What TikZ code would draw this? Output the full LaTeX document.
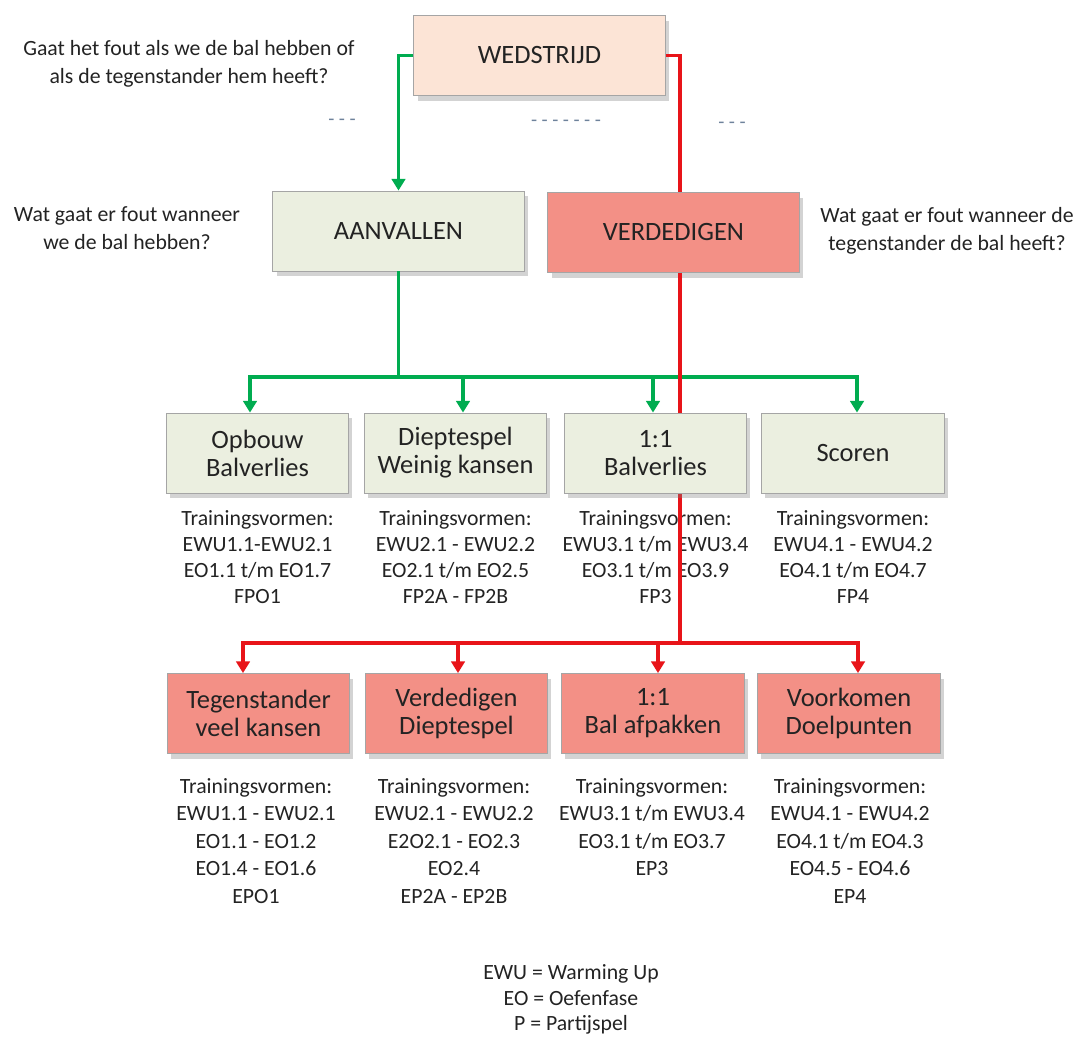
\documentclass[tikz,border=0pt]{standalone}
\usepackage{fontspec}
\setmainfont{Carlito}
\usepackage{xcolor}
\definecolor{peachfill}{RGB}{252,228,214}
\definecolor{sagefill}{RGB}{235,239,224}
\definecolor{salmonfill}{RGB}{243,144,134}
\definecolor{attackgreen}{RGB}{0,172,80}
\definecolor{defendred}{RGB}{232,20,25}
\definecolor{boxborder}{RGB}{165,165,165}
\definecolor{textgray}{RGB}{35,35,35}
\definecolor{dashgray}{RGB}{110,130,155}
\usepackage{tikz}
\usetikzlibrary{arrows.meta,shadows}

\pgfdeclarelayer{front}
\pgfsetlayers{main,front}

\begin{document}
\begin{tikzpicture}[x=0.0194cm, y=-0.0194cm, every node/.style={align=center, text=textgray},
  box/.style={draw=boxborder, line width=0.5pt, minimum height=1.55cm, inner sep=2pt,
    drop shadow={shadow xshift=2pt, shadow yshift=-3pt, opacity=0.35},
    font=\fontsize{14.6}{15.5}\selectfont},
  topbox/.style={box, minimum width=4.87cm},
  rowbox/.style={box, minimum width=3.54cm},
  attack/.style={fill=sagefill},
  defend/.style={fill=salmonfill},
  ask/.style={font=\fontsize{12}{15.4}\selectfont},
  info/.style={anchor=north, inner sep=0pt, font=\fontsize{12}{14.3}\selectfont},
  infolong/.style={anchor=north, inner sep=0pt, font=\fontsize{12}{15.2}\selectfont},
  dashmark/.style={text=dashgray, font=\fontsize{11}{12}\selectfont},
  gline/.style={draw=attackgreen, line width=1.9pt},
  rline/.style={draw=defendred, line width=1.9pt},
  arrowend/.style={-{Triangle[width=7.5pt,length=6.5pt]}}]
  \useasboundingbox (0,0) rectangle (1085,1039);

  % Nodes
  \node[topbox, fill=peachfill] (wed) at (539.5,55.5) {WEDSTRIJD};
  \node[topbox, attack] (aan) at (398.5,231) {AANVALLEN};
  \node[topbox, defend] (ver) at (673.5,232.5) {VERDEDIGEN};

  \node[ask] (qwed) at (189,64) {Gaat het fout als we de bal hebben of\\als de tegenstander hem heeft?};
  \node[ask] (qaan) at (127,228) {Wat gaat er fout wanneer\\we de bal hebben?};
  \node[ask] (qver) at (947,231) {Wat gaat er fout wanneer de\\tegenstander de bal heeft?};

  \node[dashmark] (dleft) at (342,122) {- - -};
  \node[dashmark] (dmid) at (566,123) {- - - - - - -};
  \node[dashmark] (dright) at (732,125) {- - -};

  \begin{pgfonlayer}{front}
    \node[rowbox, attack] (opb) at (257.5,453) {Opbouw\\Balverlies};
    \node[rowbox, attack] (die) at (455.5,453) {Dieptespel\\Weinig kansen};
    \node[rowbox, attack] (een) at (655.5,453) {1:1\\Balverlies};
    \node[rowbox, attack] (sco) at (853,453) {Scoren};
  \end{pgfonlayer}

  \node[rowbox, defend] (teg) at (258.5,713.5) {Tegenstander\\veel kansen};
  \node[rowbox, defend] (vdd) at (456.5,713.5) {Verdedigen\\Dieptespel};
  \node[rowbox, defend] (baf) at (653,713.5) {1:1\\Bal afpakken};
  \node[rowbox, defend] (voo) at (849,713.5) {Voorkomen\\Doelpunten};

  \node[info] (opbinfo) at (257.5,510) {Trainingsvormen:\\EWU1.1-EWU2.1\\EO1.1 t/m EO1.7\\FPO1};
  \node[info] (dieinfo) at (455.5,510) {Trainingsvormen:\\EWU2.1 - EWU2.2\\EO2.1 t/m EO2.5\\FP2A - FP2B};
  \node[info] (eeninfo) at (655.5,510) {Trainingsvormen:\\EWU3.1 t/m EWU3.4\\EO3.1 t/m EO3.9\\FP3};
  \node[info] (scoinfo) at (853,510) {Trainingsvormen:\\EWU4.1 - EWU4.2\\EO4.1 t/m EO4.7\\FP4};

  \node[infolong] (teginfo) at (256,778) {Trainingsvormen:\\EWU1.1 - EWU2.1\\EO1.1 - EO1.2\\EO1.4 - EO1.6\\EPO1};
  \node[infolong] (vddinfo) at (454,778) {Trainingsvormen:\\EWU2.1 - EWU2.2\\E2O2.1 - EO2.3\\EO2.4\\EP2A - EP2B};
  \node[infolong] (bafinfo) at (652,778) {Trainingsvormen:\\EWU3.1 t/m EWU3.4\\EO3.1 t/m EO3.7\\EP3};
  \node[infolong] (vooinfo) at (850,778) {Trainingsvormen:\\EWU4.1 - EWU4.2\\EO4.1 t/m EO4.3\\EO4.5 - EO4.6\\EP4};

  \node[anchor=north, inner sep=0pt, font=\fontsize{12}{14.2}\selectfont] (legend) at (571,964) {EWU = Warming Up\\EO = Oefenfase\\P = Partijspel};

  % Arrows
  \coordinate (gleft) at (250,377);
  \coordinate (gdie) at (463,377);
  \coordinate (geen) at (653,377);
  \coordinate (gright) at (857,377);
  \draw[gline, arrowend] (wed.west) -| (aan.north);
  \draw[gline, arrowend] (aan.south) |- (gleft) -- (gleft |- opb.north);
  \draw[gline, arrowend] (aan.south) |- (gright) -- (gright |- sco.north);
  \draw[gline, arrowend] (gdie) -- (gdie |- die.north);
  \draw[gline, arrowend] (geen) -- (geen |- een.north);

  \coordinate (rtrunk) at (680,643);
  \coordinate (rleft) at (243,643);
  \coordinate (rvdd) at (458,643);
  \coordinate (rbaf) at (658,643);
  \coordinate (rright) at (858,643);
  \draw[rline] (wed.east) -| (rtrunk |- ver.north);
  \draw[rline, arrowend] (rtrunk |- ver.south) |- (rleft) -- (rleft |- teg.north);
  \draw[rline, arrowend] (rtrunk |- ver.south) |- (rright) -- (rright |- voo.north);
  \draw[rline, arrowend] (rvdd) -- (rvdd |- vdd.north);
  \draw[rline, arrowend] (rbaf) -- (rbaf |- baf.north);
\end{tikzpicture}
\end{document}
